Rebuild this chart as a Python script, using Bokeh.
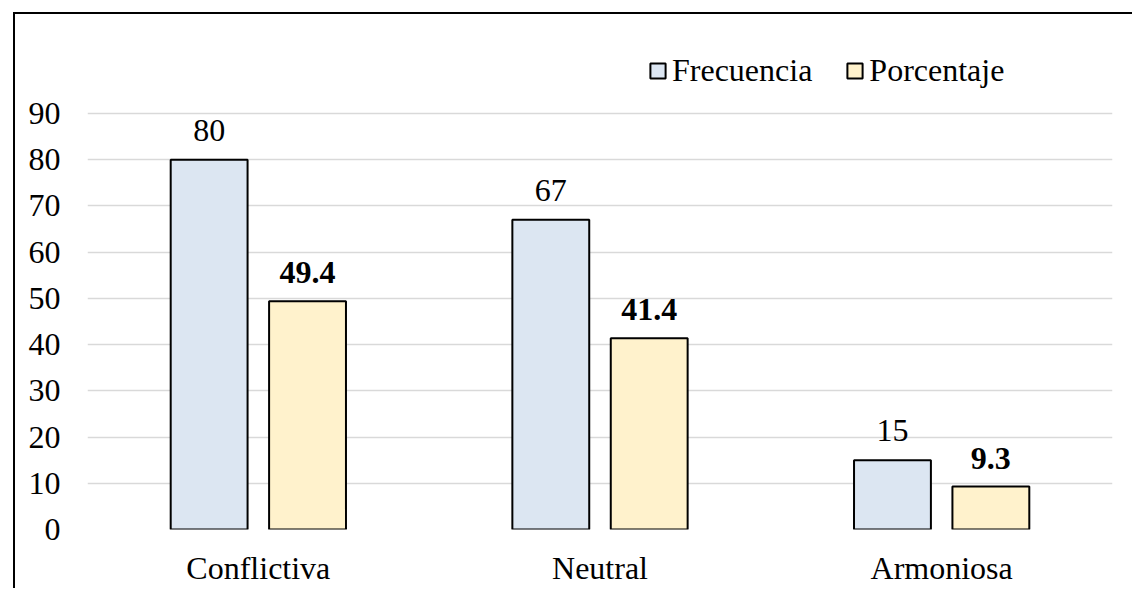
from bokeh.plotting import figure
from bokeh.models import (ColumnDataSource, FactorRange, LabelSet, Legend, LegendItem,
                          FixedTicker)
from bokeh.transform import dodge
from bokeh.core.properties import value
from bokeh.embed import file_html
from bokeh.resources import INLINE

categories = ["Conflictiva", "Neutral", "Armoniosa"]
frecuencia = [80, 67, 15]
porcentaje = [49.4, 41.4, 9.3]
frec_labels = ["80", "67", "15"]
porc_labels = ["49.4", "41.4", "9.3"]
y_ticks = [0, 10, 20, 30, 40, 50, 60, 70, 80, 90]

FONT = "Liberation Serif"
FS = "32px"

src = ColumnDataSource(dict(cat=categories, frec=frecuencia, porc=porcentaje,
                            fl=frec_labels, pl=porc_labels))

p = figure(x_range=FactorRange(*categories, range_padding=0), y_range=(0, 105.8),
           frame_width=1025, frame_height=489,
           min_border_left=72, min_border_right=20, min_border_top=26, min_border_bottom=56,
           output_backend="svg", toolbar_location=None,
           styles={"border-left": "2px solid black", "border-top": "2px solid black",
                   "margin-left": "13px", "margin-top": "12px"})

p.outline_line_color = None
p.background_fill_color = "white"
p.border_fill_color = "white"

r1 = p.vbar(x=dodge("cat", -0.144, range=p.x_range), top="frec", width=0.225, source=src,
            fill_color="#dce6f2", line_color="black", line_width=2)
r2 = p.vbar(x=dodge("cat", 0.144, range=p.x_range), top="porc", width=0.225, source=src,
            fill_color="#fff2cc", line_color="black", line_width=2)

l1 = LabelSet(x=dodge("cat", -0.144, range=p.x_range), y="frec", text="fl", source=src,
              y_offset=19, text_align="center", text_baseline="alphabetic",
              text_font=value(FONT), text_font_size=FS, text_color="black")
l2 = LabelSet(x=dodge("cat", 0.144, range=p.x_range), y="porc", text="pl", source=src,
              y_offset=18, text_align="center", text_baseline="alphabetic",
              text_font=value(FONT), text_font_size=FS, text_font_style="bold", text_color="black")
p.add_layout(l1)
p.add_layout(l2)

# axes
p.xgrid.grid_line_color = None
p.ygrid.grid_line_color = "#d9d9d9"
p.ygrid.grid_line_width = 1.5
p.yaxis.ticker = FixedTicker(ticks=y_ticks)
for ax in (p.xaxis[0], p.yaxis[0]):
    ax.axis_line_color = None
    ax.major_tick_line_color = None
    ax.minor_tick_line_color = None
    ax.major_tick_in = 0
    ax.major_tick_out = 0
    ax.minor_tick_out = 0
    ax.major_label_text_font = FONT
    ax.major_label_text_font_size = FS
    ax.major_label_text_color = "black"
p.yaxis.major_label_standoff = 27
p.xaxis.major_label_standoff = 20

legend = Legend(items=[LegendItem(label="Frecuencia", renderers=[r1]),
                       LegendItem(label="Porcentaje", renderers=[r2])],
                orientation="horizontal", location=(561, 440),
                glyph_width=19, glyph_height=19, label_standoff=5, spacing=33,
                padding=0, margin=0, border_line_color=None, background_fill_alpha=0,
                label_text_font=FONT, label_text_font_size=FS, label_text_color="black")
p.add_layout(legend, "center")

open("out.html", "w").write(file_html(p, INLINE))
